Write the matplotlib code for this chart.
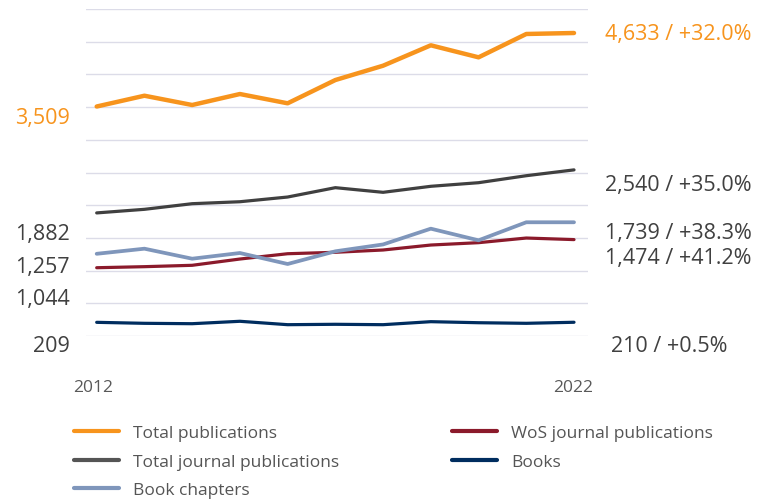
"""
Publications 2012-2022, line chart
"""

import matplotlib.pyplot as plt
from matplotlib.lines import Line2D
from matplotlib.transforms import blended_transform_factory

years = list(range(2012, 2023))

# series values
total_pub = [3509, 3674, 3532, 3700, 3558, 3914, 4133, 4445, 4261, 4618, 4633]
total_journal = [1882, 1937, 2023, 2053, 2125, 2268, 2197, 2289, 2344, 2451, 2540]
book_chapters = [1257, 1335, 1182, 1269, 1101, 1295, 1400, 1641, 1463, 1739, 1739]
wos_journal = [1044, 1060, 1081, 1177, 1258, 1280, 1315, 1391, 1427, 1498, 1474]
books = [209, 194, 188, 225, 173, 179, 173, 219, 203, 194, 210]

start_labels = ["3,509", "1,882", "1,257", "1,044", "209"]
end_labels = ["4,633 / +32.0%", "2,540 / +35.0%", "1,739 / +38.3%", "1,474 / +41.2%", "210 / +0.5%"]

ORANGE = "#F7941D"
DARK = "#404040"
LIGHTBLUE = "#7F96BB"
MAROON = "#8B1A2B"
NAVY = "#002D5F"
TEXT = "#404040"

plt.rcParams['font.family'] = ['Open Sans', 'DejaVu Sans']

fig = plt.figure(figsize=(7.61, 5.02), dpi=100)
ax = fig.add_axes([86/761, 165/502, 502/761, 327/502])

ax.plot(years, total_pub, color=ORANGE, lw=3.2, solid_capstyle='round', zorder=5)
ax.plot(years, total_journal, color=DARK, lw=2.3, solid_capstyle='round', zorder=4)
ax.plot(years, wos_journal, color=MAROON, lw=2.3, solid_capstyle='round', zorder=3)
ax.plot(years, book_chapters, color=LIGHTBLUE, lw=2.7, solid_capstyle='round', zorder=4)
ax.plot(years, books, color=NAVY, lw=2.3, solid_capstyle='round', zorder=3)

ax.set_xlim(2011.776, 2022.293)
ax.set_ylim(0, 5000)
ax.set_yticks(range(0, 5001, 500))
ax.set_xticks([])
ax.tick_params(left=False, labelleft=False)
ax.grid(axis='y', color='#DCDCE8', lw=1.0)
for s in ax.spines.values():
    s.set_visible(False)

trans = blended_transform_factory(fig.transFigure, ax.transData)

# left labels (start values) and right labels (end values)
left_y = [3335, 1570, 1065, 580, -145]
left_c = [ORANGE, TEXT, TEXT, TEXT, TEXT]
for lab, yy, c in zip(start_labels, left_y, left_c):
    ax.text(70/761, yy, lab, transform=trans, ha='right', va='center',
            fontsize=15.5, color=c, clip_on=False)

right_y = [4630, 2320, 1590, 1205, -145]
right_x = [605, 605, 605, 605, 611]
right_c = [ORANGE, TEXT, TEXT, TEXT, TEXT]
for lab, yy, xx, c in zip(end_labels, right_y, right_x, right_c):
    ax.text(xx/761, yy, lab, transform=trans, ha='left', va='center',
            fontsize=15.5, color=c, clip_on=False)

fig.text(93/761, 1 - 388/502, "2012", ha='center', va='center', fontsize=12.5, color='#595959')
fig.text(573/761, 1 - 388/502, "2022", ha='center', va='center', fontsize=12.5, color='#595959')

# legend
names = ["Total publications", "Total journal publications", "Book chapters",
         "WoS journal publications", "Books"]
cols = [ORANGE, "#555555", LIGHTBLUE, MAROON, NAVY]
handles = [Line2D([], [], color=c, lw=3, solid_capstyle='round') for c in cols]
leg = fig.legend(handles, names, ncol=2, loc='upper left', bbox_to_anchor=(74/761, 1 - 426/502),
                 frameon=False, fontsize=12.5, handlelength=2.6, handletextpad=0.8,
                 columnspacing=6.5, labelspacing=0.72, borderpad=0, borderaxespad=0)
for t in leg.get_texts():
    t.set_color('#555555')

fig.savefig("out.png", dpi=100)
